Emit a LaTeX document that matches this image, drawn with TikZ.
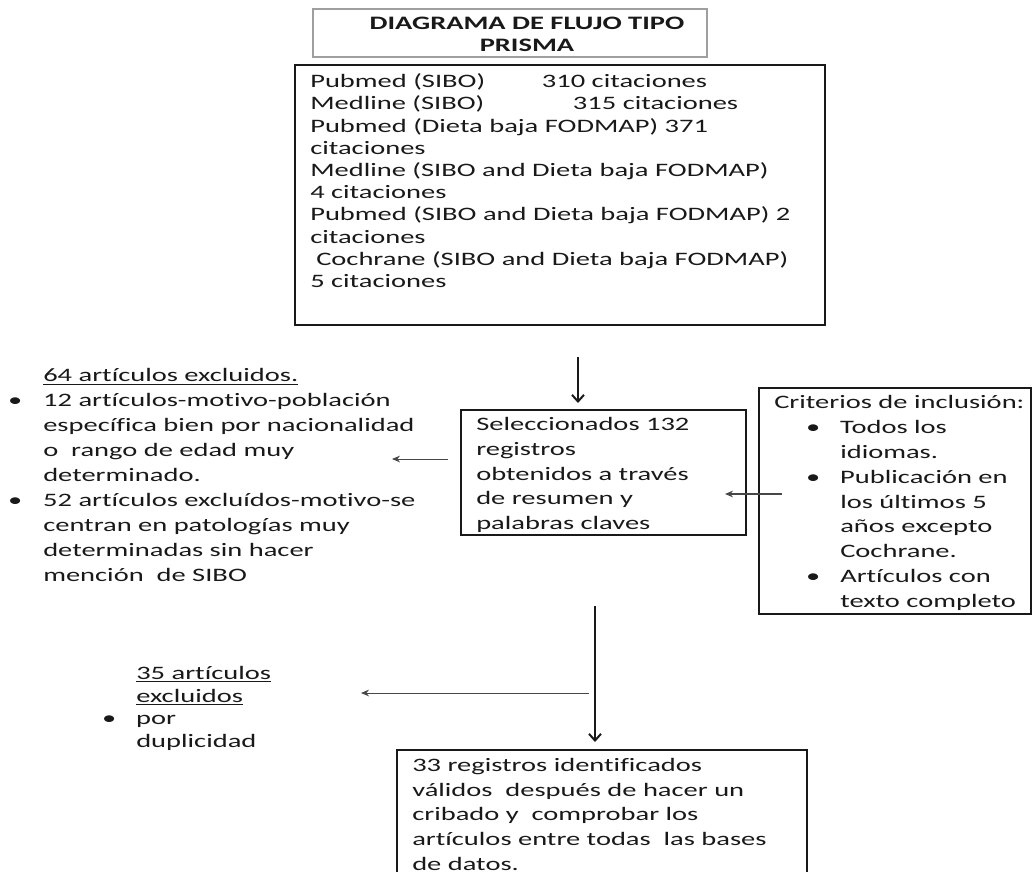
\documentclass[tikz,border=0pt]{standalone}
\usepackage{fontspec}
\setmainfont{Carlito}[FakeStretch=1.5,Ligatures=CommonOff]
\usetikzlibrary{arrows.meta,fit}
\newdimen\pxu \pxu=0.75pt
\definecolor{ink}{RGB}{25,25,25}
\newcommand\fsA{\fontsize{14.25pt}{16.65pt}\selectfont}
\newcommand\fsB{\fontsize{14.25pt}{18.66pt}\selectfont}
\newcommand\fsC{\fontsize{14.25pt}{17.0pt}\selectfont}
\newcommand\bul[1]{\llap{•\hspace{#1\pxu}}}
\tikzset{
 box/.style={draw=ink, line width=1.7pt, inner sep=0pt},
 titlebox/.style={draw=gray!75, line width=1.1pt, inner sep=0pt},
 txt/.style={anchor=north west, inner sep=0pt, align=left, text=ink},
 down/.style={draw=ink, line width=1.5pt, -{Straight Barb[length=5pt,width=9pt]}},
 side/.style={draw=ink!80, line width=0.7pt, -{Stealth[length=6pt,width=5pt]}},
}
\begin{document}
\begin{tikzpicture}[x=0.75pt,y=-0.75pt]
\useasboundingbox (0,0) rectangle (1033,872);
\clip (0,0) rectangle (1033,872);
% title
\node[titlebox, fit={(313,9)(707,57)}] (title) {};
\node[anchor=north, inner sep=0pt, align=center, text=ink, font=\fsA\bfseries] (titletext) at (527,13.6) {\strut DIAGRAMA DE FLUJO TIPO\\PRISMA};
% sources
\node[box, fit={(295,65)(825,325)}] (src) {};
\node[txt, font=\fsA] (srctext) at (310,71.8) {\strut\makebox[231.7\pxu][l]{Pubmed (SIBO)}310 citaciones\\
\makebox[262.7\pxu][l]{Medline (SIBO)}315 citaciones\\
Pubmed (Dieta baja FODMAP) 371\\
citaciones\\
Medline (SIBO and Dieta baja FODMAP)\\
4 citaciones\\
Pubmed (SIBO and Dieta baja FODMAP) 2\\
citaciones\\
\hspace*{6\pxu}Cochrane (SIBO and Dieta baja FODMAP)\\
5 citaciones};
% first exclusions
\node[txt, font=\fsB] (excl1) at (43,364.3) {\strut\underline{64 artículos excluidos.}\\
\bul{21}12 artículos-motivo-población\\
específica bien por nacionalidad\\
o~~rango de edad muy\\
determinado.\\
\bul{21}52 artículos excluídos-motivo-se\\
centran en patologías muy\\
determinadas sin hacer\\
mención~~de SIBO};
% selected
\node[box, fit={(461,410)(746,535)}] (sel) {};
\node[txt, font=\fsB] (seltext) at (476,412.6) {\strut Seleccionados 132\\registros\\obtenidos a través\\de resumen y\\palabras claves};
% criteria
\node[box, fit={(759,388)(1031,614)}] (crit) {};
\node[txt, font=\fsB] (crittext) at (774,390.8) {\strut Criterios de inclusión:\\
\hspace*{66\pxu}\bul{20}Todos los\\
\hspace*{66\pxu}idiomas.\\
\hspace*{66\pxu}\bul{20}Publicación en\\
\hspace*{66\pxu}los últimos 5\\
\hspace*{66\pxu}años excepto\\
\hspace*{66\pxu}Cochrane.\\
\hspace*{66\pxu}\bul{20}Artículos con\\
\hspace*{66\pxu}texto completo};
% second exclusions
\node[txt, font=\fsC] (excl2) at (136,663.4) {\strut\underline{35 artículos}\\\underline{excluidos}\\\bul{20}por\\duplicidad};
% final
\node[box, fit={(397,750)(807,900)}] (final) {};
\node[txt, font=\fsB] (finaltext) at (412,753.5) {\strut 33 registros identificados\\válidos~~después de hacer un\\cribado y~~comprobar los\\artículos entre todas~~las bases\\de datos.};
% connectors
\coordinate (d1s) at (578,357); \coordinate (d1e) at (578,403);
\coordinate (l1s) at (448,459); \coordinate (l1e) at (392,459);
\coordinate (c1s) at (782,494); \coordinate (c1e) at (725,494);
\coordinate (d2s) at (595,606); \coordinate (d2e) at (595,742);
\coordinate (l2s) at (589,693); \coordinate (l2e) at (361,693);
\draw[down] (d1s) -- (d1e);
\draw[side] (l1s) -- (l1e);
\draw[side, line width=1.1pt] (c1s) -- (c1e);
\draw[down] (d2s) -- (d2e);
\draw[side] (l2s) -- (l2e);
\end{tikzpicture}
\end{document}
